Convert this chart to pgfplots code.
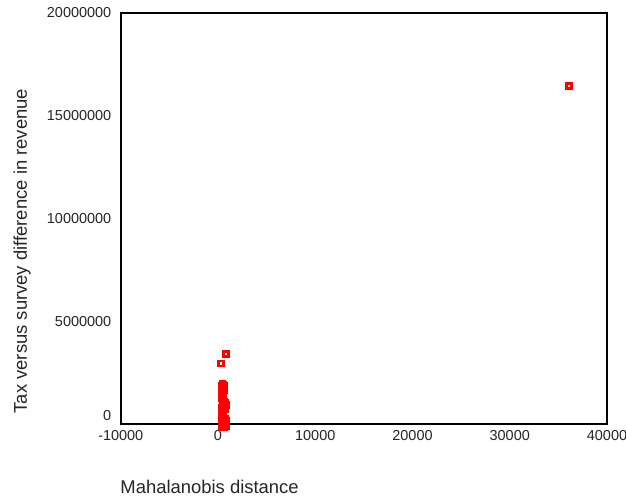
\documentclass[border=0pt]{standalone}
\usepackage{pgfplots}
\pgfplotsset{compat=1.18}
\usepackage{fontspec}
\setmainfont{Liberation Sans}
\usetikzlibrary{calc}

\begin{document}
\begin{tikzpicture}
\begin{axis}[
    scale only axis,
    width=486bp, height=411bp,
    xmin=-10000, xmax=40000,
    ymin=0, ymax=20000000,
    clip=false,
    axis on top,
    axis line style={black, line width=2.5bp},
    major tick length=0pt,
    xtick={-10000,0,10000,20000,30000,40000},
    xticklabels={-10000,0,10000,20000,30000,40000},
    ytick={5000000,10000000,15000000,20000000},
    yticklabels={5000000,10000000,15000000,20000000},
    extra y ticks={0},
    extra y tick labels={0},
    extra y tick style={yticklabel style={yshift=9bp}},
    scaled ticks=false,
    ticklabel style={font=\fontsize{14.5}{17}\selectfont, text=black!85},
    yticklabel style={xshift=-6bp},
    xticklabel style={yshift=-3bp},
    xlabel={Mahalanobis distance},
    ylabel={Tax versus survey difference in revenue},
    label style={font=\fontsize{18.5}{22}\selectfont, text=black!85},
    xlabel style={at={(axis description cs:-0.008,-0.153)}, anchor=west},
    ylabel style={at={(axis description cs:-0.203,0.421)}, anchor=center},
]
\addplot[only marks, mark=square, mark size=2.5bp, red, mark options={line width=2.7bp, solid}] coordinates {
    (36100, 16440000)
    (790, 3410000)
    (340, 2960000)
    (450, 1950000) (550, 1920000) (400, 1850000) (650, 1860000)
    (500, 1750000) (420, 1680000) (600, 1640000) (480, 1550000)
    (400, 1450000) (450, 1350000) (400, 1250000) (500, 1180000)
    (600, 1100000) (700, 1020000) (800, 950000) (450, 950000)
    (650, 880000) (400, 800000) (750, 750000) (550, 700000)
    (420, 600000) (480, 500000) (400, 400000) (500, 300000)
    (700, 250000) (800, 180000) (450, 200000) (600, 100000)
    (400, 50000) (750, 0) (500, -50000) (800, -80000)
    (420, -100000) (650, -120000)
};
\end{axis}
\pgfresetboundingbox
\path[use as bounding box] ($(current axis.south west)+(-120.7bp,-74bp)$) rectangle ($(current axis.north east)+(19bp,13bp)$);
\end{tikzpicture}
\end{document}
